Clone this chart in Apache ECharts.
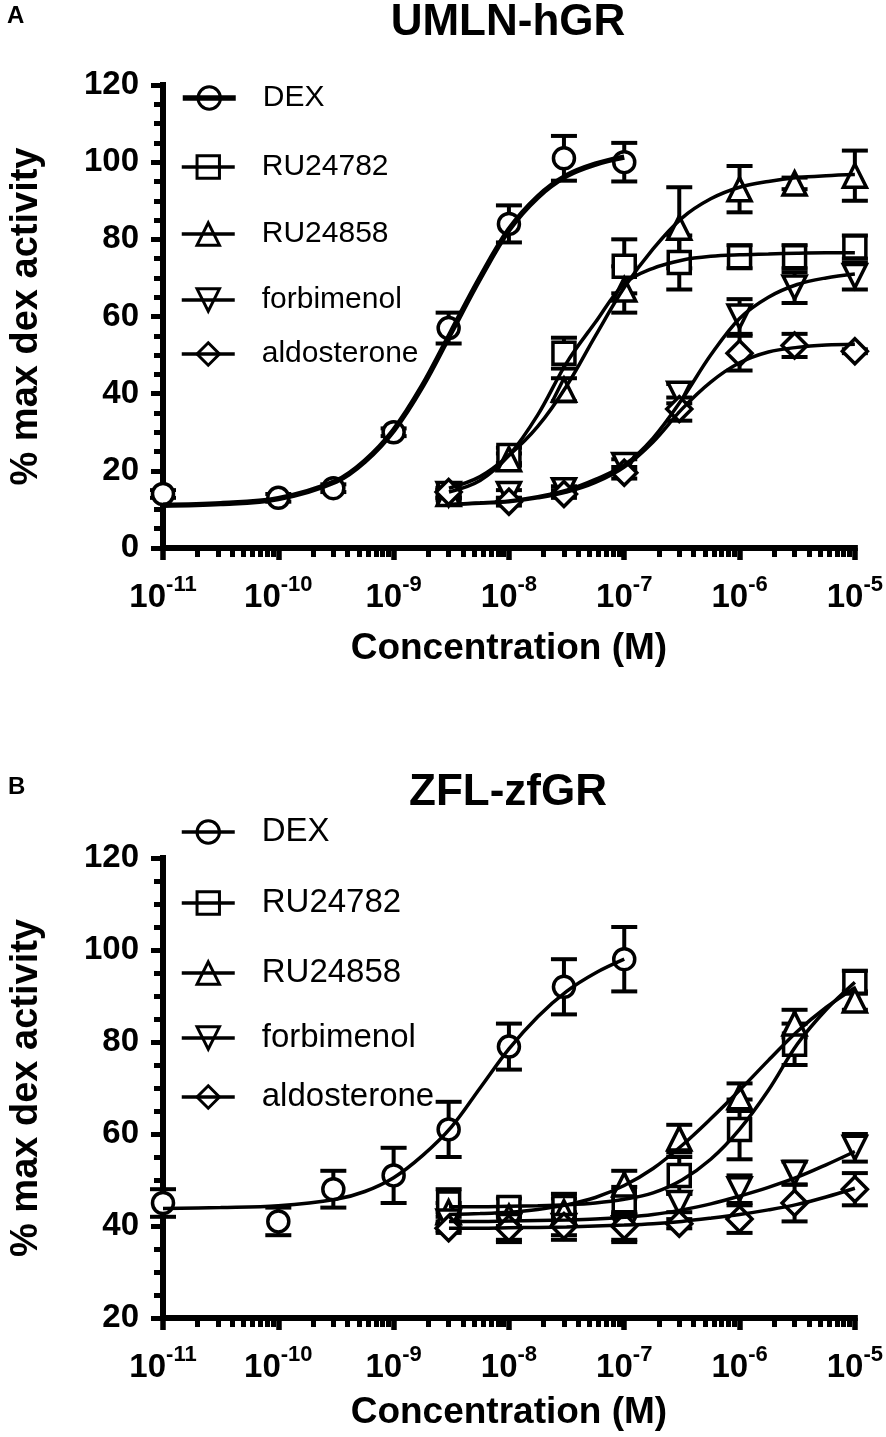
<!DOCTYPE html>
<html>
<head>
<meta charset="utf-8">
<title>UMLN-hGR / ZFL-zfGR</title>
<script src="https://cdn.jsdelivr.net/npm/echarts@6/dist/echarts.min.js"></script>
<style>
  html, body { margin: 0; padding: 0; background: #fff; }
  #chart { width: 886px; height: 1437px; }
</style>
</head>
<body>
<div id="chart"></div>
<script>
// concentrations (M) at which points were measured
const dexDoses = [1e-11, 1e-10, 3e-10, 1e-9, 3e-9, 1e-8, 3e-8, 1e-7];
const cmpDoses = [3e-9, 1e-8, 3e-8, 1e-7, 3e-7, 1e-6, 3e-6, 1e-5];
const decadeTicks = [-11, -10, -9, -8, -7, -6, -5];   // log10(M)
const yTicksA = [0, 20, 40, 60, 80, 100, 120];
const yTicksB = [20, 40, 60, 80, 100, 120];

const dexFitLogM = [-11, -10.5, -10, -9.5, -9.25, -9, -8.75, -8.5, -8.25, -8, -7.75, -7.5, -7.25, -7];
const cmpFitLogM = [-8.52, -8.25, -8, -7.75, -7.5, -7.25, -7, -6.75, -6.5, -6.25, -6, -5.75, -5.5, -5.25, -5];

// ---- A: UMLN-hGR ----
const aDexMean = [14, 13, 15.5, 30, 57, 84, 101, 100];
const aDexErr = [1, 1, 1, 1, 4, 4.8, 5.8, 5];
const aDexFit = [11.1, 11.5, 12.8, 17.3, 22.5, 30.5, 42, 56, 70, 82.5, 91, 96.5, 99.5, 101.3];

const aRu82Mean = [14, 24, 50.5, 73, 74, 75.5, 75.5, 78];
const aRu82Err = [1.5, 2, 4, 7, 7, 3, 3, 3];
const aRu82Fit = [14.5, 17.5, 24, 34.5, 48, 58.5, 68.5, 72.5, 74.6, 75.6, 76, 76.2, 76.4, 76.5, 76.5];

const aRu58Mean = [14, 23, 41, 67, 83, 93, 94.5, 96.5];
const aRu58Err = [1, 1.5, 3, 6, 10.5, 6, 1.5, 6.5];
const aRu58Fit = [15.5, 18.5, 24, 31.5, 42, 55, 67.5, 77.5, 85.5, 90.5, 93.5, 95, 96, 96.5, 96.8];

const aForbMean = [14, 14, 15, 21.5, 40, 60, 67.5, 70.5];
const aForbErr = [1, 1, 1, 1.5, 2.5, 4.5, 4, 3.5];
const aForbFit = [11.3, 11.7, 12.2, 13.3, 15, 17.8, 21.5, 28.5, 38.5, 50, 59.5, 65, 68.3, 70, 71];

const aAldoMean = [14.5, 12, 14, 19.5, 36, 50.5, 52.5, 51];
const aAldoErr = [1, 1, 1, 1.5, 3, 4.5, 3, 0.5];
const aAldoFit = [11.2, 11.6, 12, 13, 14.5, 17, 21, 27.5, 36, 43, 48, 50.8, 52, 52.6, 52.8];

// ---- B: ZFL-zfGR ----
const bDexMean = [45, 41, 48, 51, 61, 79, 92, 98];
const bDexErr = [3, 3, 4, 6, 6, 5, 6, 7];
const bDexFit = [43.8, 44, 44.4, 45.8, 47.5, 50.5, 55.3, 61.5, 70, 78.5, 85.5, 91, 95, 98];

const bRu82Mean = [45, 44, 44, 45.5, 51, 61, 79.5, 93];
const bRu82Err = [3, 2, 3, 3, 4, 6.5, 4.5, 2.5];
const bRu82Fit = [44.2, 44.2, 44.3, 44.4, 44.6, 45, 45.8, 47.2, 50, 54.5, 61, 69.5, 79.5, 87, 93];

const bRu58Mean = [43, 42, 43, 49, 59, 68, 84, 89];
const bRu58Err = [2, 2, 3, 3, 3, 3, 3, 2];
const bRu58Fit = [42.5, 42.7, 43, 43.6, 44.6, 46.2, 48.8, 52.5, 57.5, 63.3, 69.5, 76, 82.3, 87.5, 91.8];

const bForbMean = [41, 40, 40, 39.5, 45, 48, 51.5, 57];
const bForbErr = [2, 3, 3, 3, 2, 3, 2.5, 3];
const bForbFit = [41, 41, 41.1, 41.2, 41.3, 41.5, 41.9, 42.5, 43.5, 44.8, 46.5, 48.4, 50.6, 53.3, 56.2];

const bAldoMean = [39.5, 39.5, 40, 40, 40.5, 41.5, 45, 48];
const bAldoErr = [1, 3, 2, 3, 1, 3, 4, 3.5];
const bAldoFit = [39.5, 39.5, 39.6, 39.7, 39.8, 40, 40.2, 40.5, 41, 41.7, 42.5, 43.5, 44.7, 46.3, 48.2];

const FONT = '"Liberation Sans", Arial, sans-serif';
const SYM = {
  DEX: 'circle',
  RU24782: 'rect',
  RU24858: 'triangle',
  forbimenol: 'path://M0,0L10,0L5,10Z',
  aldosterone: 'diamond'
};
const SYM_SIZE = { DEX: 21, RU24782: 22, RU24858: 23, forbimenol: 23, aldosterone: 25 };

// minor ticks of the log axis (2..9 x 10^n)
const minorTickLogM = [];
decadeTicks.slice(0, -1).forEach(d => {
  for (let k = 2; k <= 9; k++) minorTickLogM.push(d + Math.log10(k));
});

function errorBar(params, api) {
  const x = api.value(0);
  const lo = api.coord([x, api.value(1)]);
  const hi = api.coord([x, api.value(2)]);
  const w = 13;
  const st = { stroke: '#000', lineWidth: 4 };
  return {
    type: 'group',
    children: [
      { type: 'line', shape: { x1: lo[0], y1: lo[1], x2: hi[0], y2: hi[1] }, style: st },
      { type: 'line', shape: { x1: lo[0] - w, y1: lo[1], x2: lo[0] + w, y2: lo[1] }, style: st },
      { type: 'line', shape: { x1: hi[0] - w, y1: hi[1], x2: hi[0] + w, y2: hi[1] }, style: st }
    ]
  };
}

function compound(panel, name, doses, mean, err, fitX, fitY, lineW) {
  const xi = panel === 'A' ? 0 : 2;
  const yi = panel === 'A' ? 0 : 1;
  const id = panel + ':' + name;
  return [
    {
      name: id + ':err', type: 'custom', xAxisIndex: xi, yAxisIndex: yi, z: 2,
      renderItem: errorBar, silent: true, clip: false,
      encode: { x: 0, y: [1, 2] },
      data: doses.map((d, i) => [Math.log10(d), mean[i] - err[i], mean[i] + err[i]])
    },
    {
      name: id + ':pts', type: 'scatter', xAxisIndex: xi, yAxisIndex: yi, z: 3,
      symbol: SYM[name], symbolSize: SYM_SIZE[name], clip: false, silent: true,
      itemStyle: { color: '#fff', borderColor: '#000', borderWidth: 3.5, opacity: 1 },
      data: doses.map((d, i) => [Math.log10(d), mean[i]])
    },
    {
      name: id, type: 'line', xAxisIndex: xi, yAxisIndex: yi, z: 4,
      showSymbol: false, symbol: SYM[name], symbolSize: SYM_SIZE[name],
      smooth: 0.35, clip: false, silent: true,
      lineStyle: { color: '#000', width: lineW },
      itemStyle: { color: '#000' },
      data: fitX.map((x, i) => [x, fitY[i]])
    }
  ];
}

function legendItem(panel, name, centerY, fontSize, lineW) {
  return {
    data: [panel + ':' + name],
    left: 175, top: centerY - 5 - fontSize / 2,
    itemWidth: 53, itemHeight: 28, selectedMode: false,
    formatter: n => n.split(':')[1],
    textStyle: { fontSize: fontSize, fontFamily: FONT, color: '#000', padding: [0, 0, 0, 22] },
    itemStyle: { color: 'rgba(0,0,0,0)', borderColor: '#000', borderWidth: 3 },
    lineStyle: { color: '#000', width: lineW }
  };
}

function xAxes(grid, nameGap) {
  return [
    {
      type: 'value', gridIndex: grid, min: decadeTicks[0], max: decadeTicks[decadeTicks.length - 1],
      interval: 1, position: 'bottom',
      name: 'Concentration (M)', nameLocation: 'middle', nameGap: nameGap,
      nameTextStyle: { fontSize: 37, fontWeight: 'bold', fontFamily: FONT, color: '#000' },
      axisLine: { show: true, lineStyle: { color: '#000', width: 6, cap: 'square' } },
      axisTick: { show: true, length: 12, lineStyle: { color: '#000', width: 5.5 } },
      axisLabel: {
        margin: 26,
        formatter: v => '{b|10}{s|' + Math.round(v) + '}',
        rich: {
          b: { fontSize: 33, fontWeight: 'bold', fontFamily: FONT, color: '#000', lineHeight: 40, verticalAlign: 'bottom' },
          s: { fontSize: 22, fontWeight: 'bold', fontFamily: FONT, color: '#000', verticalAlign: 'top' }
        }
      },
      splitLine: { show: false }
    },
    {
      type: 'value', gridIndex: grid, min: decadeTicks[0], max: decadeTicks[decadeTicks.length - 1],
      position: 'bottom',
      axisLine: { show: false },
      axisTick: { show: true, customValues: minorTickLogM, length: 9, lineStyle: { color: '#000', width: 5 } },
      axisLabel: { show: false },
      splitLine: { show: false }
    }
  ];
}

function yAxis(grid, ticks) {
  return {
    type: 'value', gridIndex: grid, min: ticks[0], max: ticks[ticks.length - 1], interval: 20,
    name: '% max dex activity', nameLocation: 'middle', nameGap: 117,
    nameTextStyle: { fontSize: 38, fontWeight: 'bold', fontFamily: FONT, color: '#000' },
    axisLine: { show: true, lineStyle: { color: '#000', width: 6, cap: 'square' } },
    axisTick: { show: true, length: 12, lineStyle: { color: '#000', width: 5 } },
    minorTick: { show: true, splitNumber: 4, length: 9, lineStyle: { color: '#000', width: 5 } },
    axisLabel: { margin: 24, fontSize: 33, fontWeight: 'bold', fontFamily: FONT, color: '#000' },
    splitLine: { show: false }
  };
}

const chart = echarts.init(document.getElementById('chart'), null, { renderer: 'canvas' });

const series = [].concat(
  compound('A', 'DEX', dexDoses, aDexMean, aDexErr, dexFitLogM, aDexFit, 5.5),
  compound('A', 'RU24782', cmpDoses, aRu82Mean, aRu82Err, cmpFitLogM, aRu82Fit, 3.5),
  compound('A', 'RU24858', cmpDoses, aRu58Mean, aRu58Err, cmpFitLogM, aRu58Fit, 3.5),
  compound('A', 'forbimenol', cmpDoses, aForbMean, aForbErr, cmpFitLogM, aForbFit, 3.5),
  compound('A', 'aldosterone', cmpDoses, aAldoMean, aAldoErr, cmpFitLogM, aAldoFit, 3.5),
  compound('B', 'DEX', dexDoses, bDexMean, bDexErr, dexFitLogM, bDexFit, 3.5),
  compound('B', 'RU24782', cmpDoses, bRu82Mean, bRu82Err, cmpFitLogM, bRu82Fit, 3.5),
  compound('B', 'RU24858', cmpDoses, bRu58Mean, bRu58Err, cmpFitLogM, bRu58Fit, 3.5),
  compound('B', 'forbimenol', cmpDoses, bForbMean, bForbErr, cmpFitLogM, bForbFit, 3.5),
  compound('B', 'aldosterone', cmpDoses, bAldoMean, bAldoErr, cmpFitLogM, bAldoFit, 3.5)
);

const option = {
  animation: false,
  backgroundColor: '#fff',
  title: [
    { text: 'A', left: 7, top: 4, padding: 0, textStyle: { fontSize: 24, fontWeight: 'bold', fontFamily: FONT, color: '#000' } },
    { text: 'UMLN-hGR', left: 508, top: 1, padding: 0, textAlign: 'center', textStyle: { fontSize: 44, fontWeight: 'bold', fontFamily: FONT, color: '#000' } },
    { text: 'B', left: 8, top: 775, padding: 0, textStyle: { fontSize: 24, fontWeight: 'bold', fontFamily: FONT, color: '#000' } },
    { text: 'ZFL-zfGR', left: 508, top: 771, padding: 0, textAlign: 'center', textStyle: { fontSize: 44, fontWeight: 'bold', fontFamily: FONT, color: '#000' } }
  ],
  legend: [
    legendItem('A', 'DEX', 98, 30, 5.5),
    legendItem('A', 'RU24782', 167, 30, 3.5),
    legendItem('A', 'RU24858', 234, 30, 3.5),
    legendItem('A', 'forbimenol', 300, 30, 3.5),
    legendItem('A', 'aldosterone', 354, 30, 3.5),
    legendItem('B', 'DEX', 832, 33, 3.5),
    legendItem('B', 'RU24782', 903, 33, 3.5),
    legendItem('B', 'RU24858', 973, 33, 3.5),
    legendItem('B', 'forbimenol', 1038, 33, 3.5),
    legendItem('B', 'aldosterone', 1097, 33, 3.5)
  ],
  grid: [
    { left: 161, top: 85, width: 694, height: 463 },
    { left: 161, top: 858, width: 694, height: 460 }
  ],
  xAxis: [].concat(xAxes(0, 82), xAxes(1, 76)),
  yAxis: [yAxis(0, yTicksA), yAxis(1, yTicksB)],
  series: series
};

chart.setOption(option);
</script>
</body>
</html>
